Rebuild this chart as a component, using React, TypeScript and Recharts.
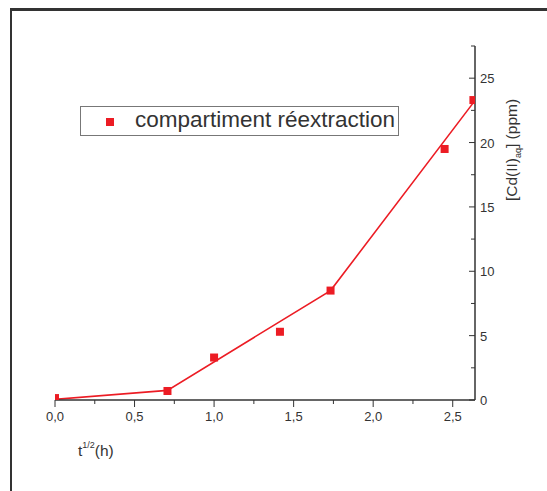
import React from 'react';
import { ComposedChart, Line, Scatter, XAxis, YAxis, Label } from 'recharts';

// t^1/2 (h) and measured [Cd(II)]aq (ppm)
const sqrtTime = [0, 0.707, 1.0, 1.414, 1.732, 2.449, 2.63];
const cdValues = [0.15, 0.7, 3.3, 5.3, 8.5, 19.5, 23.3];

// fitted curve
const fitTime = [0, 0.707, 1.732, 2.63];
const fitValues = [0.05, 0.75, 8.5, 23.1];

const xTicks = [0, 0.25, 0.5, 0.75, 1, 1.25, 1.5, 1.75, 2, 2.25, 2.5];
const yTicks = [0, 2.5, 5, 7.5, 10, 12.5, 15, 17.5, 20, 22.5, 25, 27.5];

const seriesName = 'compartiment réextraction';

const points = sqrtTime.map((x, i) => ({ x, y: cdValues[i] }));
const fit = fitTime.map((x, i) => ({ x, y: fitValues[i] }));

const RED = '#ec1c24';
const AXIS = '#333333';
const FONT = '"Liberation Sans", Arial, sans-serif';

const XTick = (props: any) => {
  const { x, y, payload } = props;
  const v = payload.value as number;
  const major = Math.abs(v * 2 - Math.round(v * 2)) < 1e-6;
  return (
    <g>
      <line x1={x} y1={y} x2={x} y2={y + (major ? 7 : 4)} stroke={AXIS} strokeWidth={1} />
      {major && (
        <text x={x} y={y + 21} textAnchor="middle" fontSize={13} fill={AXIS} fontFamily={FONT}>
          {v.toFixed(1).replace('.', ',')}
        </text>
      )}
    </g>
  );
};

const YTick = (props: any) => {
  const { x, y, payload } = props;
  const v = payload.value as number;
  const major = v % 5 === 0;
  return (
    <g>
      <line x1={x} y1={y} x2={x - (major ? 6 : 4)} y2={y} stroke={AXIS} strokeWidth={1} />
      {major && (
        <text x={x + 5} y={y + 5} textAnchor="start" fontSize={13} fill={AXIS} fontFamily={FONT}>
          {v}
        </text>
      )}
    </g>
  );
};

const Square = (props: any) => {
  const { cx, cy } = props;
  if (cx == null || cy == null) return null;
  return <rect x={cx - 4} y={cy - 4} width={8} height={8} fill={RED} />;
};

export default function App() {
  return (
    <div style={{ position: 'absolute', left: 0, top: 0, width: 547, height: 491, overflow: 'hidden', background: '#fff' }}>
      <div
        style={{
          position: 'absolute',
          left: 10,
          top: 8,
          width: 560,
          height: 520,
          borderTop: `3px solid ${AXIS}`,
          borderLeft: `2px solid ${AXIS}`,
        }}
      />
      <ComposedChart
        width={547}
        height={491}
        margin={{ top: 46, right: 32, bottom: 61, left: 55 }}
        style={{ position: 'absolute', left: 0, top: 0 }}
      >
        <XAxis
          type="number"
          dataKey="x"
          domain={[0, 2.64]}
          ticks={xTicks}
          interval={0}
          allowDataOverflow
          height={30}
          tickSize={0}
          tickMargin={0}
          tickLine={false}
          tick={<XTick />}
          axisLine={{ stroke: AXIS, strokeWidth: 1.5 }}
        >
          <Label
            content={() => (
              <text x={78} y={456} fontSize={15.5} fill={AXIS} fontFamily={FONT}>
                t
                <tspan fontSize={9} dy={-8}>1/2</tspan>
                <tspan fontSize={15.5} dy={8}>(h)</tspan>
              </text>
            )}
          />
        </XAxis>
        <YAxis
          type="number"
          dataKey="y"
          orientation="right"
          domain={[0, 27.5]}
          ticks={yTicks}
          interval={0}
          allowDataOverflow
          width={40}
          tickSize={0}
          tickMargin={0}
          tickLine={false}
          tick={<YTick />}
          axisLine={{ stroke: AXIS, strokeWidth: 1.5 }}
        >
          <Label
            content={() => (
              <text
                x={517}
                y={150}
                textAnchor="middle"
                fontSize={15.5}
                fill={AXIS}
                fontFamily={FONT}
                transform="rotate(-90 517 150)"
              >
                [Cd(II)
                <tspan fontSize={9} dy={4}>aq</tspan>
                <tspan fontSize={15.5} dy={-4}>] (ppm)</tspan>
              </text>
            )}
          />
        </YAxis>
        <Line
          data={fit}
          dataKey="y"
          type="linear"
          stroke={RED}
          strokeWidth={1.6}
          dot={false}
          activeDot={false}
          isAnimationActive={false}
          legendType="none"
        />
        <Scatter
          data={points}
          dataKey="y"
          name={seriesName}
          fill={RED}
          shape={<Square />}
          isAnimationActive={false}
        />
      </ComposedChart>
      <div
        style={{
          position: 'absolute',
          left: 80,
          top: 106,
          width: 317,
          height: 28,
          border: '1px solid #777',
          background: '#fff',
          fontFamily: FONT,
        }}
      >
        <div style={{ position: 'absolute', left: 25, top: 11, width: 8, height: 8, background: RED }} />
        <div
          style={{
            position: 'absolute',
            left: 54,
            top: 0,
            fontSize: 22.5,
            color: AXIS,
            lineHeight: '26px',
            whiteSpace: 'nowrap',
          }}
        >
          {seriesName}
        </div>
      </div>
    </div>
  );
}
